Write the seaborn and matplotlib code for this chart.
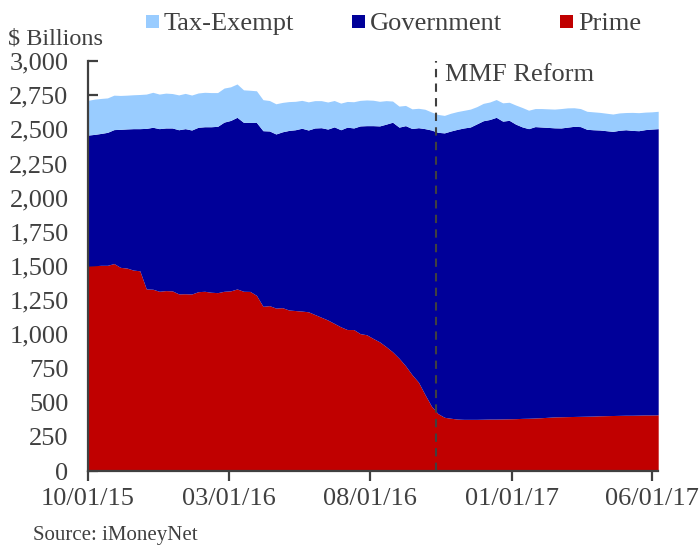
import numpy as np
import pandas as pd
import matplotlib
matplotlib.use("Agg")
import matplotlib.pyplot as plt
import matplotlib.dates as mdates
from matplotlib.patches import Rectangle
import seaborn as sns

# Weekly money market fund assets, $ billions
start_date = "2015-10-01"
n_weeks = 89

prime = [1500, 1502, 1505, 1505, 1518, 1490, 1485, 1470, 1465, 1332,
         1330, 1315, 1320, 1318, 1296, 1297, 1295, 1312, 1315, 1308,
         1305, 1315, 1318, 1332, 1315, 1314, 1285, 1205, 1210, 1192,
         1195, 1178, 1174, 1170, 1165, 1145, 1125, 1105, 1080, 1055,
         1035, 1035, 1005, 997, 970, 945, 910, 872, 825, 770,
         705, 650, 560, 475, 420, 393, 386, 380, 378, 378,
         378, 379, 380, 380, 381, 382, 383, 385, 386, 388,
         390, 393, 396, 397, 398, 399, 400, 401, 402, 404,
         405, 406, 407, 408, 408, 409, 410, 410, 411]

government = [958, 961, 965, 973, 980, 1010, 1018, 1035, 1040, 1175,
              1185, 1190, 1190, 1192, 1201, 1208, 1200, 1203, 1204, 1211,
              1217, 1238, 1247, 1256, 1236, 1237, 1265, 1285, 1278, 1274,
              1287, 1314, 1323, 1338, 1330, 1365, 1387, 1397, 1438, 1442,
              1481, 1475, 1520, 1530, 1557, 1580, 1628, 1680, 1691, 1757,
              1801, 1862, 1945, 2020, 2058, 2081, 2102, 2120, 2132, 2139,
              2162, 2184, 2192, 2208, 2179, 2184, 2155, 2133, 2119, 2132,
              2127, 2121, 2115, 2113, 2118, 2123, 2120, 2099, 2095, 2091,
              2085, 2079, 2086, 2089, 2084, 2081, 2088, 2092, 2094]

tax_exempt = [254, 258, 256, 252, 252, 248, 247, 248, 250, 251,
              256, 253, 255, 252, 255, 258, 256, 251, 252, 250,
              247, 249, 246, 244, 238, 235, 232, 227, 223, 221,
              215, 211, 208, 204, 206, 200, 198, 198, 193, 195,
              188, 192, 187, 188, 186, 180, 172, 155, 154, 148,
              144, 142, 142, 132, 131, 128, 130, 130, 129, 131,
              126, 127, 128, 130, 134, 132, 140, 142, 135, 132,
              135, 136, 137, 142, 141, 136, 132, 132, 131, 129,
              128, 127, 127, 126, 132, 132, 128, 126, 127]

series_names = ["Prime", "Government", "Tax-Exempt"]
series_colors = ["#C00000", "#000099", "#99CCFF"]
legend_order = ["Tax-Exempt", "Government", "Prime"]
tick_dates = ["2015-10-01", "2016-03-01", "2016-08-01", "2017-01-01", "2017-06-01"]
reform_date = "2016-10-11"
y_ticks = list(range(0, 3001, 250))

dates = pd.date_range(start_date, periods=n_weeks, freq="7D")
df = pd.DataFrame({"date": dates, "Prime": prime,
                   "Government": government, "Tax-Exempt": tax_exempt})

sns.set_theme(style="ticks")
plt.rcParams["font.family"] = ["Liberation Serif", "DejaVu Serif"]
text_color = "#404040"

fig = plt.figure(figsize=(6.99, 5.46), dpi=100)
W, H = 699, 546
ax = fig.add_axes([88 / W, 75 / H, (658.2 - 88) / W, 410 / H])

ax.stackplot(df["date"], [df[s] for s in series_names],
             colors=series_colors, linewidth=0, antialiased=True)

ax.set_ylim(0, 3000)
ax.set_xlim(dates[0], dates[-1])
ax.set_yticks(y_ticks)
ax.yaxis.set_major_formatter(matplotlib.ticker.FuncFormatter(lambda v, p: f"{int(v):,}"))
ax.set_xticks(pd.to_datetime(tick_dates))
ax.xaxis.set_major_formatter(mdates.DateFormatter("%m/%d/%y"))

sns.despine(ax=ax)
for side in ["left", "bottom"]:
    ax.spines[side].set_color(text_color)
    ax.spines[side].set_linewidth(1.6)
ax.tick_params(axis="y", direction="in", length=7, width=1.6, color=text_color,
               labelsize=19, labelcolor=text_color, pad=14)
ax.tick_params(axis="x", direction="out", length=7, width=1.6, color=text_color,
               labelsize=19, labelcolor=text_color, pad=5)
ax.grid(False)

# regulatory change marker
ax.axvline(pd.Timestamp(reform_date), color=text_color, linestyle=(0, (4, 3)),
           linewidth=1.5, ymin=0, ymax=1, zorder=5)
ax.text(pd.Timestamp(reform_date) + pd.Timedelta(days=10), 2900, "MMF Reform",
        fontsize=19, color=text_color, va="center", ha="left")

fig.text(8 / W, 1 - 45 / H, "$ Billions", fontsize=17.5, color=text_color,
         va="baseline", ha="left")
fig.text(33 / W, 1 - 540 / H, "Source: iMoneyNet", fontsize=15, color=text_color,
         va="baseline", ha="left")

# legend row
color_map = dict(zip(series_names, series_colors))
legend_x = [146, 352, 560]
for name, xpix in zip(legend_order, legend_x):
    fig.patches.append(Rectangle((xpix / W, 1 - 28 / H), 13 / W, 13 / H,
                                 transform=fig.transFigure,
                                 facecolor=color_map[name], edgecolor="none"))
    fig.text((xpix + 18) / W, 1 - 30 / H, name, fontsize=19, color=text_color,
             va="baseline", ha="left")

fig.savefig("out.png", dpi=100)
